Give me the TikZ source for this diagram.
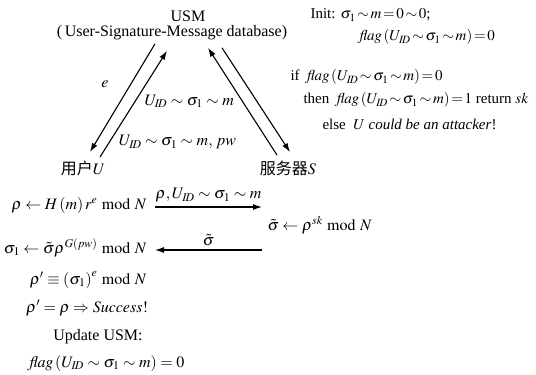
\documentclass[tikz,border=0pt]{standalone}
\usepackage{mathptmx}
\usepackage{fontspec}
\setmainfont{Liberation Serif}
\newfontfamily\cjk{Noto Sans CJK SC}
\usetikzlibrary{arrows.meta, positioning}

\newcommand{\uid}{U_{I\!D}}
\newcommand{\flagof}{\mathit{flag}\left(\uid\sim\sigma_1\sim m\right)}
\newcommand{\tightrel}{\thickmuskip=2mu plus 1mu\relax}

\begin{document}
\begin{tikzpicture}[x=1pt, y=-1pt, >={Latex[length=9pt,width=6pt]}, line width=1.1pt,
    font=\fontsize{16}{19}\selectfont, inner sep=1pt,
    check line/.style={anchor=west, font=\fontsize{15}{18}\selectfont\tightrel}]
    \useasboundingbox (0,0) rectangle (536,375);

    % database and the two parties
    \node (usm) at (188,16) {USM};
    \node (db) at (172,33) {(\,User-Signature-Message database)};
    \node (user) at (83,168) {{\cjk 用户}$U$};
    \node (server) at (288,168) {{\cjk 服务器}$S$};

    \draw[->] ([xshift=-17pt,yshift=-2pt]db.south) -- node[pos=0.37, left=21pt] {$e$} ([xshift=7pt,yshift=7pt]user.north);
    \draw[->] ([xshift=17pt,yshift=2pt]user.north) -- node[pos=0.14, right=8pt] {$\uid\sim\sigma_1\sim m,\,pw$} ([xshift=-5pt,yshift=-9pt]db.south);
    \draw[->] ([xshift=-11pt,yshift=4pt]server.north) -- node[pos=0.5, left=7pt] {$\uid\sim\sigma_1\sim m$} ([xshift=36pt,yshift=-6pt]db.south);
    \draw[->] ([xshift=50pt,yshift=-6pt]db.south) -- ([xshift=2pt,yshift=7pt]server.north);

    % server side check
    \node[check line] (init) at (309,15) {Init: $\sigma_1\sim m=0\sim 0$;};
    \node[check line] (init flag) at (358,37) {$\flagof=0$};
    \node[check line] (cond) at (289,77) {if\enspace $\flagof=0$};
    \node[check line] (then) at (302,100) {then\enspace $\flagof=1$ return $sk$};
    \node[check line] (else) at (321,124) {else\enspace $U$ \textit{could be an attacker}!};

    % blind signature exchange
    \node[anchor=east] (hash) at (148,205) {$\rho\leftarrow H\left(m\right)r^{e}\bmod N$};
    \node[anchor=west] (sign) at (266,225) {$\tilde{\sigma}\leftarrow\rho^{sk}\bmod N$};
    \node[anchor=east] (unblind) at (148,248) {$\sigma_1\leftarrow\tilde{\sigma}\rho^{G(pw)}\bmod N$};
    \coordinate (out) at ([xshift=7pt,yshift=-2pt]hash.east);
    \coordinate (back) at ([xshift=7pt,yshift=-2pt]unblind.east);
    \coordinate (recv) at ([xshift=-4pt]sign.west);
    \draw[->] (out) -- node[above=3pt] {$\rho,\uid\sim\sigma_1\sim m$} (out -| recv);
    \draw[->] (back -| recv) -- node[above=3pt] {$\tilde{\sigma}$} (back);

    \node[anchor=east] (verify) at (148,280) {$\rho'\equiv\left(\sigma_1\right)^{e}\bmod N$};
    \node (success) at (87,308) {$\rho'=\rho\Rightarrow\mathit{Success}!$};
    \node (update) at (98,337) {Update USM:};
    \node (reset) at (107,363) {$\flagof=0$};
\end{tikzpicture}
\end{document}
